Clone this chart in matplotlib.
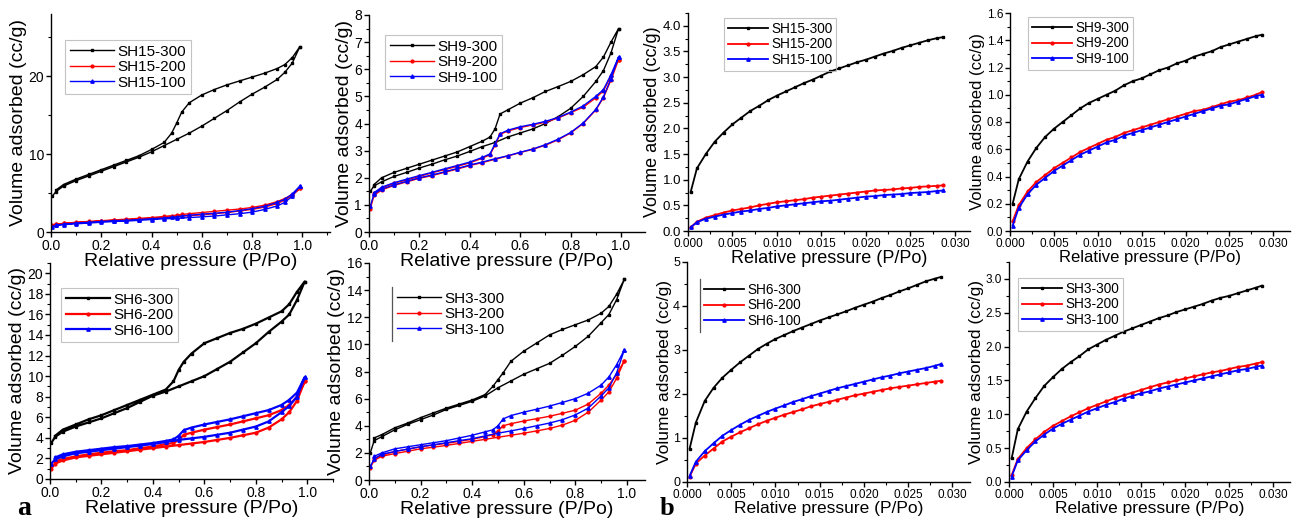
import matplotlib
matplotlib.use("Agg")
import matplotlib.pyplot as plt
from matplotlib.ticker import MultipleLocator, AutoMinorLocator, FormatStrFormatter
from matplotlib.lines import Line2D

plt.rcParams["font.family"] = ["Liberation Sans", "DejaVu Sans"]

# ---- relative pressure grids (P/Po) ----
# full isotherm: adsorption going up, desorption coming back
P_ADS = [0.005, 0.02, 0.05, 0.1, 0.15, 0.2, 0.25, 0.3, 0.35, 0.4, 0.45, 0.5,
         0.55, 0.6, 0.65, 0.7, 0.75, 0.8, 0.85, 0.9, 0.93, 0.96, 0.99]
P_DES = [0.99, 0.96, 0.93, 0.9, 0.85, 0.8, 0.75, 0.7, 0.65, 0.6, 0.55, 0.52,
         0.5, 0.48, 0.45, 0.4, 0.35, 0.3, 0.25, 0.2, 0.15, 0.1, 0.05, 0.02]
# low pressure range
P_LOW = [0.0003, 0.001, 0.002, 0.003, 0.004, 0.005, 0.006, 0.007, 0.008, 0.009,
         0.010, 0.011, 0.012, 0.013, 0.014, 0.015, 0.016, 0.017, 0.018, 0.019,
         0.020, 0.021, 0.022, 0.023, 0.024, 0.025, 0.026, 0.027, 0.028, 0.0287]

# ---- (a) full isotherms, volume adsorbed (cc/g) ----
SH15_300_ADS = [4.6, 5.2, 5.9, 6.6, 7.2, 7.8, 8.4, 9.0, 9.6, 10.3, 11.1, 11.9,
                12.7, 13.6, 14.6, 15.6, 16.7, 17.7, 18.6, 19.6, 20.5, 21.7, 23.8]
SH15_300_DES = [23.8, 22.4, 21.5, 21.0, 20.4, 19.9, 19.4, 18.9, 18.3, 17.6, 16.6, 15.4,
                14.0, 12.7, 11.5, 10.6, 9.8, 9.2, 8.6, 8.0, 7.4, 6.8, 6.1, 5.4]
SH15_200_ADS = [0.9, 1.0, 1.1, 1.2, 1.3, 1.4, 1.5, 1.55, 1.65, 1.75, 1.85, 2.0,
                2.1, 2.2, 2.35, 2.5, 2.7, 2.9, 3.2, 3.65, 4.1, 4.7, 5.6]
SH15_200_DES = [5.6, 4.8, 4.3, 3.9, 3.45, 3.15, 2.95, 2.8, 2.65, 2.5, 2.35, 2.25,
                2.15, 2.1, 2.0, 1.85, 1.75, 1.65, 1.55, 1.45, 1.35, 1.25, 1.1, 1.0]
SH15_100_ADS = [0.7, 0.85, 0.95, 1.05, 1.15, 1.25, 1.35, 1.4, 1.5, 1.6, 1.7, 1.75,
                1.85, 1.95, 2.05, 2.2, 2.35, 2.55, 2.9, 3.35, 3.8, 4.6, 5.9]
SH15_100_DES = [5.9, 4.9, 4.2, 3.8, 3.3, 3.0, 2.75, 2.55, 2.4, 2.3, 2.15, 2.05,
                1.95, 1.9, 1.8, 1.7, 1.6, 1.5, 1.45, 1.35, 1.25, 1.15, 1.0, 0.9]

SH9_300_ADS = [1.5, 1.7, 1.85, 2.05, 2.2, 2.36, 2.5, 2.66, 2.8, 2.97, 3.15, 3.3,
               3.5, 3.65, 3.8, 4.0, 4.25, 4.56, 5.0, 5.55, 5.95, 6.6, 7.5]
SH9_300_DES = [7.5, 7.0, 6.45, 6.1, 5.8, 5.55, 5.36, 5.18, 4.95, 4.75, 4.5, 4.35,
               3.8, 3.5, 3.35, 3.15, 2.95, 2.8, 2.65, 2.5, 2.35, 2.2, 2.0, 1.75]
SH9_200_ADS = [0.85, 1.35, 1.55, 1.72, 1.85, 1.98, 2.08, 2.2, 2.32, 2.45, 2.56, 2.68,
               2.8, 2.93, 3.05, 3.2, 3.4, 3.65, 4.0, 4.5, 4.95, 5.6, 6.35]
SH9_200_DES = [6.35, 5.75, 5.2, 4.95, 4.6, 4.4, 4.2, 4.05, 3.95, 3.85, 3.72, 3.6,
               3.2, 2.85, 2.72, 2.55, 2.42, 2.3, 2.18, 2.05, 1.92, 1.8, 1.62, 1.42]
SH9_100_ADS = [0.95, 1.4, 1.58, 1.74, 1.87, 2.0, 2.1, 2.22, 2.34, 2.47, 2.58, 2.7,
               2.81, 2.94, 3.06, 3.22, 3.42, 3.67, 4.02, 4.52, 4.98, 5.65, 6.45]
SH9_100_DES = [6.45, 5.8, 5.25, 5.0, 4.65, 4.42, 4.22, 4.08, 3.97, 3.88, 3.75, 3.62,
               3.25, 2.88, 2.75, 2.58, 2.45, 2.33, 2.2, 2.08, 1.95, 1.82, 1.65, 1.45]

SH6_300_ADS = [3.5, 4.1, 4.6, 5.1, 5.5, 5.9, 6.4, 6.9, 7.5, 8.1, 8.5, 9.0,
               9.5, 10.0, 10.7, 11.4, 12.3, 13.2, 14.3, 15.3, 16.0, 17.4, 19.2]
SH6_300_DES = [19.2, 18.2, 17.0, 16.3, 15.7, 15.1, 14.6, 14.2, 13.7, 13.2, 12.2, 11.4,
               10.6, 9.5, 8.7, 8.2, 7.7, 7.2, 6.7, 6.2, 5.8, 5.3, 4.8, 4.2]
SH6_200_ADS = [1.0, 1.5, 1.8, 2.1, 2.25, 2.4, 2.55, 2.7, 2.85, 3.0, 3.15, 3.3,
               3.45, 3.6, 3.8, 4.0, 4.25, 4.5, 5.0, 5.8, 6.5, 7.6, 9.5]
SH6_200_DES = [9.5, 8.0, 7.2, 6.7, 6.2, 5.9, 5.6, 5.3, 5.05, 4.8, 4.5, 4.3,
               3.8, 3.5, 3.4, 3.15, 3.0, 2.8, 2.7, 2.55, 2.4, 2.2, 1.95, 1.7]
SH6_100_ADS = [1.5, 1.9, 2.2, 2.5, 2.65, 2.8, 2.95, 3.1, 3.25, 3.4, 3.6, 3.8,
               3.95, 4.1, 4.3, 4.5, 4.8, 5.1, 5.6, 6.5, 7.1, 8.0, 9.9]
SH6_100_DES = [9.9, 8.4, 7.7, 7.2, 6.7, 6.4, 6.1, 5.8, 5.55, 5.3, 5.0, 4.75,
               4.2, 3.85, 3.7, 3.5, 3.35, 3.2, 3.1, 2.95, 2.8, 2.65, 2.4, 2.1]

SH3_300_ADS = [2.0, 2.9, 3.2, 3.7, 4.1, 4.45, 4.8, 5.2, 5.5, 5.8, 6.2, 6.8,
               7.3, 7.8, 8.2, 8.6, 9.2, 9.85, 10.6, 11.6, 12.2, 13.3, 14.8]
SH3_300_DES = [14.8, 13.7, 12.8, 12.3, 11.8, 11.45, 11.1, 10.7, 10.1, 9.5, 8.75, 7.9,
               7.4, 6.9, 6.3, 5.9, 5.6, 5.3, 4.95, 4.6, 4.2, 3.85, 3.35, 3.1]
SH3_200_ADS = [0.9, 1.45, 1.75, 1.95, 2.12, 2.3, 2.42, 2.55, 2.7, 2.85, 3.0, 3.15,
               3.3, 3.45, 3.62, 3.8, 4.05, 4.4, 5.0, 5.9, 6.5, 7.5, 8.8]
SH3_200_DES = [8.8, 7.8, 7.0, 6.4, 5.6, 5.15, 4.92, 4.7, 4.52, 4.35, 4.15, 4.0,
               3.6, 3.35, 3.2, 3.0, 2.85, 2.7, 2.58, 2.45, 2.28, 2.1, 1.85, 1.6]
SH3_100_ADS = [1.0, 1.55, 1.9, 2.1, 2.28, 2.45, 2.6, 2.75, 2.9, 3.05, 3.25, 3.45,
               3.62, 3.8, 4.0, 4.2, 4.45, 4.8, 5.3, 6.2, 6.8, 7.9, 9.6]
SH3_100_DES = [9.6, 8.5, 7.6, 7.0, 6.4, 6.0, 5.72, 5.45, 5.22, 5.0, 4.75, 4.5,
               4.0, 3.7, 3.55, 3.3, 3.1, 2.9, 2.75, 2.6, 2.45, 2.3, 2.0, 1.75]

# ---- (b) low pressure adsorption (cc/g) ----
SH15_300_LOW = [0.76, 1.22, 1.5, 1.74, 1.92, 2.08, 2.21, 2.34, 2.44, 2.55, 2.64, 2.72,
                2.8, 2.88, 2.95, 3.03, 3.11, 3.17, 3.23, 3.29, 3.34, 3.4, 3.46, 3.51,
                3.57, 3.62, 3.67, 3.72, 3.76, 3.78]
SH15_200_LOW = [0.07, 0.18, 0.26, 0.31, 0.36, 0.40, 0.43, 0.46, 0.50, 0.53, 0.56, 0.58,
                0.60, 0.62, 0.65, 0.67, 0.69, 0.71, 0.73, 0.75, 0.77, 0.79, 0.80, 0.81,
                0.83, 0.84, 0.86, 0.87, 0.88, 0.89]
SH15_100_LOW = [0.07, 0.17, 0.24, 0.28, 0.32, 0.35, 0.38, 0.40, 0.43, 0.45, 0.48, 0.50,
                0.52, 0.54, 0.56, 0.58, 0.59, 0.61, 0.63, 0.65, 0.67, 0.68, 0.70, 0.71,
                0.72, 0.74, 0.75, 0.76, 0.78, 0.79]

SH9_300_LOW = [0.2, 0.38, 0.51, 0.61, 0.69, 0.75, 0.8, 0.85, 0.9, 0.94, 0.97, 1.0,
               1.03, 1.07, 1.1, 1.12, 1.15, 1.18, 1.2, 1.23, 1.25, 1.28, 1.3, 1.32,
               1.35, 1.37, 1.39, 1.41, 1.43, 1.44]
SH9_200_LOW = [0.07, 0.19, 0.29, 0.36, 0.41, 0.46, 0.50, 0.54, 0.58, 0.61, 0.64, 0.67,
               0.69, 0.72, 0.74, 0.76, 0.78, 0.80, 0.82, 0.84, 0.86, 0.88, 0.89, 0.91,
               0.93, 0.95, 0.96, 0.98, 1.0, 1.02]
SH9_100_LOW = [0.04, 0.17, 0.27, 0.34, 0.39, 0.44, 0.48, 0.52, 0.56, 0.59, 0.62, 0.65,
               0.67, 0.70, 0.72, 0.74, 0.76, 0.78, 0.80, 0.82, 0.84, 0.86, 0.88, 0.90,
               0.92, 0.93, 0.95, 0.97, 0.99, 1.0]

SH6_300_LOW = [0.76, 1.35, 1.84, 2.14, 2.37, 2.55, 2.72, 2.87, 3.02, 3.14, 3.25, 3.34,
               3.43, 3.51, 3.59, 3.67, 3.74, 3.81, 3.88, 3.96, 4.03, 4.1, 4.18, 4.25,
               4.33, 4.4, 4.48, 4.56, 4.62, 4.66]
SH6_200_LOW = [0.12, 0.42, 0.6, 0.76, 0.92, 1.03, 1.13, 1.22, 1.31, 1.39, 1.46, 1.53,
               1.59, 1.65, 1.72, 1.77, 1.82, 1.87, 1.92, 1.97, 2.01, 2.05, 2.09, 2.13,
               2.16, 2.19, 2.22, 2.25, 2.28, 2.3]
SH6_100_LOW = [0.14, 0.46, 0.7, 0.88, 1.05, 1.18, 1.3, 1.41, 1.5, 1.59, 1.67, 1.74,
               1.82, 1.88, 1.95, 2.01, 2.07, 2.13, 2.18, 2.23, 2.28, 2.33, 2.38, 2.42,
               2.47, 2.51, 2.55, 2.59, 2.64, 2.68]

SH3_300_LOW = [0.35, 0.78, 1.04, 1.24, 1.42, 1.55, 1.67, 1.77, 1.86, 1.96, 2.03, 2.1,
               2.16, 2.22, 2.27, 2.32, 2.37, 2.42, 2.46, 2.51, 2.55, 2.59, 2.63, 2.68,
               2.72, 2.75, 2.79, 2.83, 2.87, 2.9]
SH3_200_LOW = [0.1, 0.34, 0.5, 0.63, 0.74, 0.83, 0.9, 0.97, 1.03, 1.09, 1.14, 1.19,
               1.24, 1.28, 1.32, 1.36, 1.4, 1.44, 1.47, 1.5, 1.53, 1.56, 1.59, 1.62,
               1.64, 1.67, 1.7, 1.72, 1.75, 1.77]
SH3_100_LOW = [0.08, 0.32, 0.47, 0.6, 0.7, 0.79, 0.86, 0.92, 0.98, 1.04, 1.09, 1.14,
               1.18, 1.23, 1.27, 1.31, 1.34, 1.38, 1.41, 1.44, 1.47, 1.5, 1.53, 1.56,
               1.59, 1.62, 1.65, 1.67, 1.7, 1.72]

W, H = 1292, 519
STYLES = [dict(color="black", marker="s", ms=2.1),
          dict(color="red", marker="o", ms=2.0),
          dict(color="blue", marker="^", ms=2.4)]


def iso(ads, des):
    return P_ADS + P_DES, ads + des


def low(y):
    return P_LOW, y


# panel layout: pixel box (left, top, right, bottom), limits, ticks, fonts
PANELS = [
    dict(box=(51, 14, 330, 232), xlim=(0, 1.11), ylim=(0, 28), ymaj=10, xmaj=0.2,
         series=[("SH15-300", iso(SH15_300_ADS, SH15_300_DES)),
                 ("SH15-200", iso(SH15_200_ADS, SH15_200_DES)),
                 ("SH15-100", iso(SH15_100_ADS, SH15_100_DES))],
         leg=(65, 40), legfs=11, fmt="%d", xfmt="%.1f", lab=14, tick=10, xtick=10, lw=1.0),
    dict(box=(369, 15, 645, 232), xlim=(0, 1.095), ylim=(0, 8), ymaj=1, xmaj=0.2,
         series=[("SH9-300", iso(SH9_300_ADS, SH9_300_DES)),
                 ("SH9-200", iso(SH9_200_ADS, SH9_200_DES)),
                 ("SH9-100", iso(SH9_100_ADS, SH9_100_DES))],
         leg=(385, 35), legfs=11, fmt="%d", xfmt="%.1f", lab=14, tick=10, xtick=10, lw=1.0),
    dict(box=(50, 263, 333, 479), xlim=(0, 1.1), ylim=(0, 21), ymaj=2, xmaj=0.2,
         series=[("SH6-300", iso(SH6_300_ADS, SH6_300_DES)),
                 ("SH6-200", iso(SH6_200_ADS, SH6_200_DES)),
                 ("SH6-100", iso(SH6_100_ADS, SH6_100_DES))],
         leg=(61, 288), legfs=11, fmt="%d", xfmt="%.1f", lab=14, tick=10, xtick=10, lw=1.6),
    dict(box=(369, 263, 645, 480), xlim=(0, 1.07), ylim=(0, 16), ymaj=2, xmaj=0.2,
         series=[("SH3-300", iso(SH3_300_ADS, SH3_300_DES)),
                 ("SH3-200", iso(SH3_200_ADS, SH3_200_DES)),
                 ("SH3-100", iso(SH3_100_ADS, SH3_100_DES))],
         leg=(392, 287), legfs=11, fmt="%d", xfmt="%.1f", lab=14, tick=10, xtick=10, lw=1.0,
         bar=True),
    dict(box=(688, 13, 970, 231), xlim=(0, 0.0317), ylim=(0, 4.25), ymaj=0.5, xmaj=0.005,
         series=[("SH15-300", low(SH15_300_LOW)),
                 ("SH15-200", low(SH15_200_LOW)),
                 ("SH15-100", low(SH15_100_LOW))],
         leg=(724, 18), legfs=9.8, fmt="%.1f", xfmt="%.3f", lab=13, tick=9.5, xtick=8.5, lw=1.3),
    dict(box=(1010, 13, 1290, 231), xlim=(0, 0.0319), ylim=(0, 1.6), ymaj=0.2, xmaj=0.005,
         series=[("SH9-300", low(SH9_300_LOW)),
                 ("SH9-200", low(SH9_200_LOW)),
                 ("SH9-100", low(SH9_100_LOW))],
         leg=(1028, 17), legfs=9.8, fmt="%.1f", xfmt="%.3f", lab=12, tick=8.5, xtick=8.5, lw=1.3),
    dict(box=(687, 262, 970, 482), xlim=(0, 0.032), ylim=(0, 5), ymaj=1, xmaj=0.005,
         series=[("SH6-300", low(SH6_300_LOW)),
                 ("SH6-200", low(SH6_200_LOW)),
                 ("SH6-100", low(SH6_100_LOW))],
         leg=(700, 279), legfs=9.8, fmt="%d", xfmt="%.3f", lab=12.5, tick=9, xtick=8.5, lw=1.3,
         bar=True),
    dict(box=(1009, 262, 1290, 482), xlim=(0, 0.0319), ylim=(0, 3.25), ymaj=0.5, xmaj=0.005,
         series=[("SH3-300", low(SH3_300_LOW)),
                 ("SH3-200", low(SH3_200_LOW)),
                 ("SH3-100", low(SH3_100_LOW))],
         leg=(1018, 278), legfs=9.8, fmt="%.1f", xfmt="%.3f", lab=12.5, tick=8.5, xtick=8.5, lw=1.3),
]


def px_rect(l, t, r, b):
    return [l / W, 1 - b / H, (r - l) / W, (b - t) / H]


fig = plt.figure(figsize=(W / 100, H / 100), dpi=100)
fig.patch.set_facecolor("white")

bars = []
for p in PANELS:
    ax = fig.add_axes(px_rect(*p["box"]))
    ax.patch.set_alpha(0)
    for (name, (x, y)), st in zip(p["series"], STYLES):
        ax.plot(x, y, lw=p["lw"], label=name, **st)

    ax.set_xlim(*p["xlim"])
    ax.set_ylim(*p["ylim"])
    ax.xaxis.set_major_locator(MultipleLocator(p["xmaj"]))
    ax.yaxis.set_major_locator(MultipleLocator(p["ymaj"]))
    ax.xaxis.set_minor_locator(AutoMinorLocator(2))
    ax.yaxis.set_minor_locator(AutoMinorLocator(2))
    ax.xaxis.set_major_formatter(FormatStrFormatter(p["xfmt"]))
    ax.yaxis.set_major_formatter(FormatStrFormatter(p["fmt"]))
    ax.spines["top"].set_visible(False)
    ax.spines["right"].set_visible(False)
    for s in ("left", "bottom"):
        ax.spines[s].set_linewidth(1.0)
    ax.tick_params(which="major", direction="out", length=3.5, width=1.0, pad=1.5)
    ax.tick_params(which="minor", direction="out", length=2, width=0.8)
    ax.tick_params(axis="y", labelsize=p["tick"])
    ax.tick_params(axis="x", labelsize=p["xtick"])
    ax.set_xlabel("Relative pressure (P/Po)", fontsize=p["lab"], labelpad=0)
    ax.set_ylabel("Volume adsorbed (cc/g)", fontsize=p["lab"], labelpad=1)

    lx, ly = p["leg"]
    leg = ax.legend(loc="upper left", bbox_to_anchor=(lx / W, 1 - ly / H),
                    bbox_transform=fig.transFigure, fontsize=p["legfs"],
                    numpoints=1, handlelength=2.9, handletextpad=0.25,
                    labelspacing=0.1, borderpad=0.3, borderaxespad=0,
                    fancybox=False, edgecolor="#b5b5b5")
    frame = leg.get_frame()
    frame.set_facecolor("none")
    frame.set_linewidth(0.8)
    if p.get("bar"):
        frame.set_edgecolor("none")
        bars.append(leg)

# thin vertical bar on the left of some legends
fig.canvas.draw()
inv = fig.transFigure.inverted()
for leg in bars:
    bb = leg.get_window_extent()
    (x0, y0), (x1, y1) = inv.transform([(bb.x0, bb.y0), (bb.x1, bb.y1)])
    fig.add_artist(Line2D([x0, x0], [y0, y1], color="#555555", lw=0.9,
                          transform=fig.transFigure))

fig.text(17 / W, 4 / H, "a", fontsize=20, fontweight="bold",
         family=["Liberation Serif", "DejaVu Serif"], va="baseline")
fig.text(660 / W, 4 / H, "b", fontsize=19, fontweight="bold",
         family=["Liberation Serif", "DejaVu Serif"], va="baseline")

fig.savefig("out.png", dpi=100)
